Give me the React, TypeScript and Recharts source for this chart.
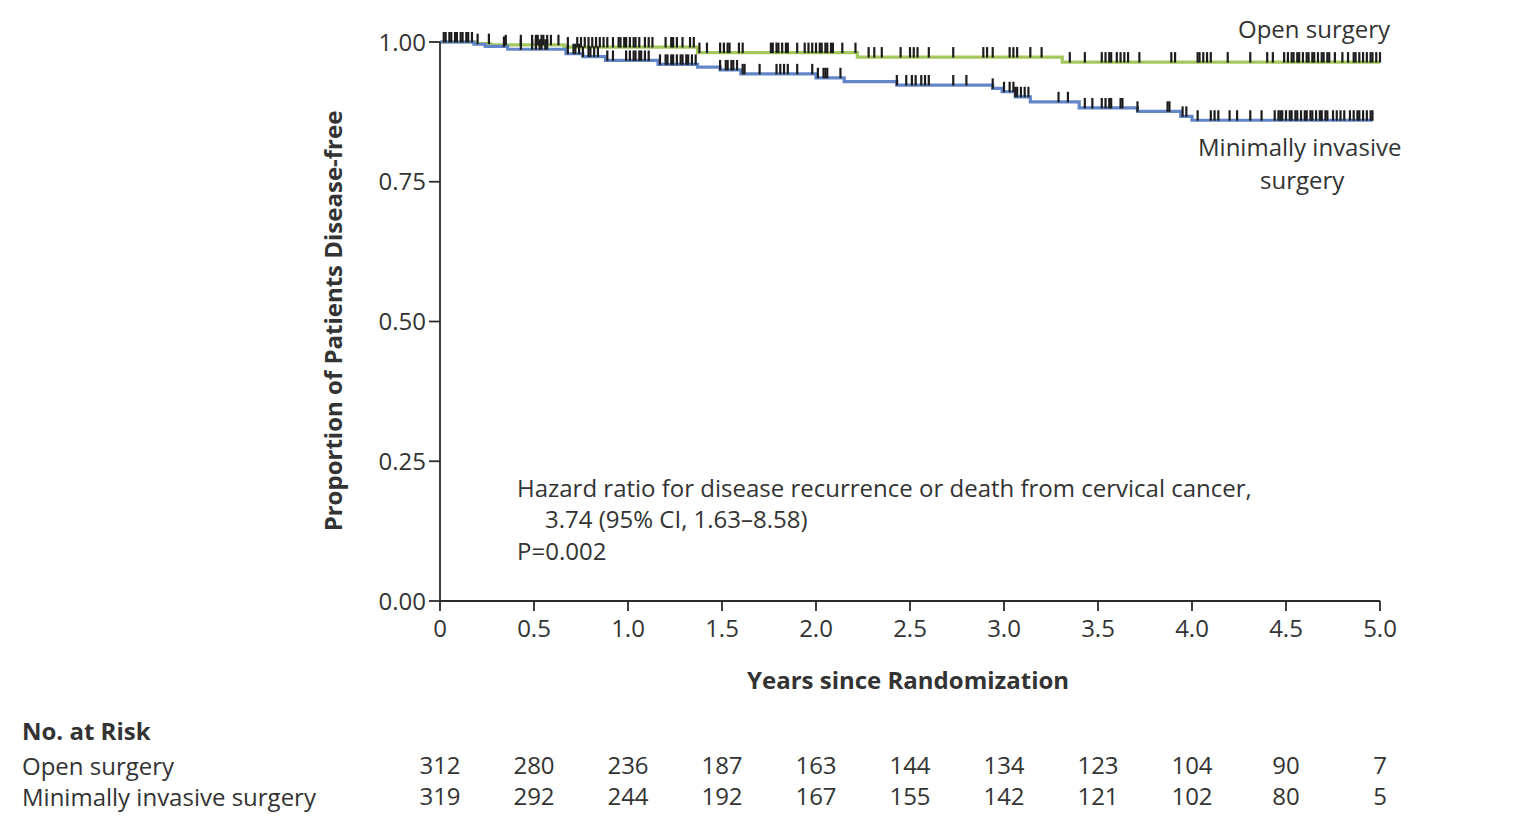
import { ComposedChart, Line, Scatter, XAxis, YAxis } from 'recharts';

// step points of the two Kaplan-Meier curves (years, proportion)
const openTimes = [0, 0.19, 0.27, 0.66, 1.37, 2.22, 3.31, 5.0];
const openSurv = [1.0, 0.997, 0.995, 0.991, 0.981, 0.973, 0.964, 0.964];

const misTimes = [0, 0.18, 0.24, 0.36, 0.67, 0.76, 0.88, 1.16, 1.37, 1.49, 1.6, 2.0, 2.15, 2.43, 2.94, 2.99, 3.06, 3.14, 3.4, 3.71, 3.94, 4.0, 4.96];
const misSurv = [1.0, 0.996, 0.992, 0.987, 0.979, 0.974, 0.967, 0.96, 0.955, 0.95, 0.943, 0.936, 0.929, 0.923, 0.917, 0.911, 0.902, 0.893, 0.882, 0.876, 0.867, 0.86, 0.86];

// censoring times
const openCensor = [
  0.02, 0.03, 0.05, 0.06, 0.08, 0.09, 0.11, 0.12, 0.14, 0.15, 0.17, 0.2, 0.26, 0.35, 0.43,
  0.49, 0.51, 0.52, 0.54, 0.55, 0.57, 0.59, 0.63, 0.68,
  0.73, 0.75, 0.77, 0.79, 0.81, 0.83, 0.85, 0.87, 0.89, 0.92,
  0.95, 0.96, 0.98, 0.99, 1.01, 1.03, 1.04, 1.06, 1.09, 1.11,
  1.13, 1.2, 1.23, 1.24, 1.26, 1.29, 1.33, 1.35, 1.38, 1.42,
  1.49, 1.51, 1.53, 1.54, 1.59, 1.61,
  1.76, 1.77, 1.79, 1.8, 1.82, 1.84, 1.85, 1.9, 1.94, 1.96,
  1.98, 2.0, 2.02, 2.03, 2.05, 2.06, 2.08, 2.09, 2.14, 2.21,
  2.28, 2.31, 2.35, 2.45, 2.5, 2.52, 2.54, 2.6, 2.73,
  2.89, 2.91, 2.94, 3.03, 3.05, 3.07, 3.14, 3.2, 3.35,
  3.43, 3.52, 3.54, 3.56, 3.57, 3.6, 3.62, 3.64, 3.66, 3.72,
  3.89, 3.91, 4.03, 4.04, 4.06, 4.08, 4.1, 4.19, 4.31, 4.4, 4.43,
  4.49, 4.51, 4.53, 4.54, 4.56, 4.57, 4.59, 4.61, 4.62, 4.64, 4.65, 4.67, 4.69, 4.7, 4.72,
  4.73, 4.76, 4.8, 4.83, 4.86, 4.87, 4.89, 4.91, 4.93, 4.95, 4.96, 4.98, 5.0,
];
const misCensor = [
  0.34, 0.43, 0.49, 0.51, 0.53, 0.54, 0.56, 0.57, 0.68,
  0.71, 0.72, 0.74, 0.76, 0.79, 0.8, 0.82, 0.84, 0.89, 0.92,
  0.99, 1.01, 1.03, 1.04, 1.06, 1.07, 1.09, 1.11,
  1.17, 1.2, 1.21, 1.23, 1.24, 1.26, 1.28, 1.29, 1.31, 1.32, 1.34, 1.36,
  1.49, 1.52, 1.53, 1.55, 1.56, 1.58, 1.61, 1.62, 1.7, 1.79, 1.81, 1.83, 1.85, 1.9,
  1.98, 2.01, 2.04, 2.05, 2.06, 2.13,
  2.43, 2.48, 2.51, 2.53, 2.56, 2.58, 2.6, 2.73, 2.8, 2.94,
  3.0, 3.03, 3.05, 3.06, 3.07, 3.09, 3.11, 3.13, 3.29, 3.34,
  3.43, 3.47, 3.52, 3.54, 3.56, 3.57, 3.62, 3.63, 3.71, 3.87, 3.88, 3.95, 3.97,
  4.03, 4.1, 4.12, 4.14, 4.2, 4.24, 4.31, 4.37, 4.44, 4.46,
  4.47, 4.48, 4.5, 4.52, 4.53, 4.55, 4.56, 4.58, 4.6, 4.61, 4.63, 4.64, 4.66, 4.68, 4.69, 4.71, 4.72,
  4.75, 4.77, 4.79, 4.81, 4.84, 4.86, 4.88, 4.89, 4.91, 4.93, 4.95, 4.96,
];

const yearTicks = [0, 0.5, 1, 1.5, 2, 2.5, 3, 3.5, 4, 4.5, 5];
const propTicks = [0, 0.25, 0.5, 0.75, 1];
const riskOpen = [312, 280, 236, 187, 163, 144, 134, 123, 104, 90, 7];
const riskMis = [319, 292, 244, 192, 167, 155, 142, 121, 102, 80, 5];

const FONT = '"Open Sans", "Noto Sans", sans-serif';
const FS = 24;
const TEXT = '#333';
const AXIS = '#2b2b2b';

const curve = (times: number[], surv: number[]) => times.map((t, i) => ({ t, s: surv[i] }));
const survAt = (times: number[], surv: number[], t: number) => {
  let v = surv[0];
  times.forEach((tt, i) => {
    if (tt <= t) v = surv[i];
  });
  return v;
};
const censorPts = (cens: number[], times: number[], surv: number[]) =>
  cens.map((t) => ({ t, s: survAt(times, surv, t) }));

const openData = curve(openTimes, openSurv);
const misData = curve(misTimes, misSurv);
const openCens = censorPts(openCensor, openTimes, openSurv);
const misCens = censorPts(misCensor, misTimes, misSurv);

const CensorMark = (props: any) => {
  const { cx, cy } = props;
  if (cx == null || cy == null) return null;
  return <line x1={cx} x2={cx} y1={cy - 10} y2={cy + 0.5} stroke="#1c1c1c" strokeWidth={2.2} />;
};

const txt = (left: number, top: number, s: string, extra: any = {}) => (
  <div
    style={{
      position: 'absolute',
      left,
      top,
      fontFamily: FONT,
      fontSize: FS,
      lineHeight: '24px',
      color: TEXT,
      whiteSpace: 'nowrap',
      ...extra,
    }}
  >
    {s}
  </div>
);

export default function App() {
  const tickStyle = { fontSize: FS, fill: TEXT, fontFamily: FONT };
  return (
    <div style={{ position: 'absolute', left: 0, top: 0, width: 1538, height: 822, background: '#fff' }}>
      <ComposedChart width={1538} height={822} margin={{ top: 42, right: 158, bottom: 4, left: 340 }}>
        <XAxis
          xAxisId="a_main"
          type="number"
          dataKey="t"
          domain={[0, 5]}
          ticks={yearTicks}
          interval={0}
          height={156}
          tickFormatter={(v: number) => (v === 0 ? '0' : v.toFixed(1))}
          tick={tickStyle}
          tickSize={10}
          tickMargin={9}
          stroke={AXIS}
          strokeWidth={1.8}
        />
        <XAxis
          xAxisId="b_riskOpen"
          type="number"
          dataKey="t"
          domain={[0, 5]}
          ticks={yearTicks}
          interval={0}
          height={31}
          axisLine={false}
          tickLine={false}
          tickSize={0}
          tickMargin={0}
          tick={tickStyle}
          tickFormatter={(v: number) => String(riskOpen[yearTicks.indexOf(v)])}
        />
        <XAxis
          xAxisId="c_riskMis"
          type="number"
          dataKey="t"
          domain={[0, 5]}
          ticks={yearTicks}
          interval={0}
          height={30}
          axisLine={false}
          tickLine={false}
          tickSize={0}
          tickMargin={0}
          tick={tickStyle}
          tickFormatter={(v: number) => String(riskMis[yearTicks.indexOf(v)])}
        />
        <YAxis
          type="number"
          dataKey="s"
          domain={[0, 1]}
          ticks={propTicks}
          interval={0}
          width={100}
          tickFormatter={(v: number) => v.toFixed(2)}
          tick={tickStyle}
          tickSize={11}
          tickMargin={3}
          stroke={AXIS}
          strokeWidth={1.8}
        />
        {/* invisible series so the at-risk axes get a domain */}
        <Line xAxisId="b_riskOpen" data={openData} dataKey="s" stroke="none" dot={false} isAnimationActive={false} />
        <Line xAxisId="c_riskMis" data={misData} dataKey="s" stroke="none" dot={false} isAnimationActive={false} />
        <Line
          xAxisId="a_main"
          data={openData}
          dataKey="s"
          type="stepAfter"
          stroke="#a5c85e"
          strokeWidth={3.2}
          dot={false}
          isAnimationActive={false}
        />
        <Line
          xAxisId="a_main"
          data={misData}
          dataKey="s"
          type="stepAfter"
          stroke="#6486c9"
          strokeWidth={3.2}
          dot={false}
          isAnimationActive={false}
        />
        <Scatter xAxisId="a_main" data={openCens} dataKey="s" shape={<CensorMark />} isAnimationActive={false} />
        <Scatter xAxisId="a_main" data={misCens} dataKey="s" shape={<CensorMark />} isAnimationActive={false} />
      </ComposedChart>

      {txt(1238, 17, 'Open surgery')}
      {txt(1198, 135, 'Minimally invasive')}
      {txt(1260, 168, 'surgery')}

      {txt(517, 476, 'Hazard ratio for disease recurrence or death from cervical cancer,')}
      {txt(545, 507, '3.74 (95% CI, 1.63\u20138.58)')}
      {txt(517, 539, 'P=0.002')}

      <div
        style={{
          position: 'absolute',
          left: 333,
          top: 321,
          transform: 'translate(-50%, -50%) rotate(-90deg)',
          fontFamily: FONT,
          fontSize: FS,
          fontWeight: 700,
          lineHeight: '24px',
          color: TEXT,
          whiteSpace: 'nowrap',
        }}
      >
        Proportion of Patients Disease-free
      </div>
      {txt(747, 668, 'Years since Randomization', { fontWeight: 700 })}

      {txt(22, 719, 'No. at Risk', { fontWeight: 700 })}
      {txt(22, 754, 'Open surgery')}
      {txt(22, 785, 'Minimally invasive surgery')}
    </div>
  );
}
